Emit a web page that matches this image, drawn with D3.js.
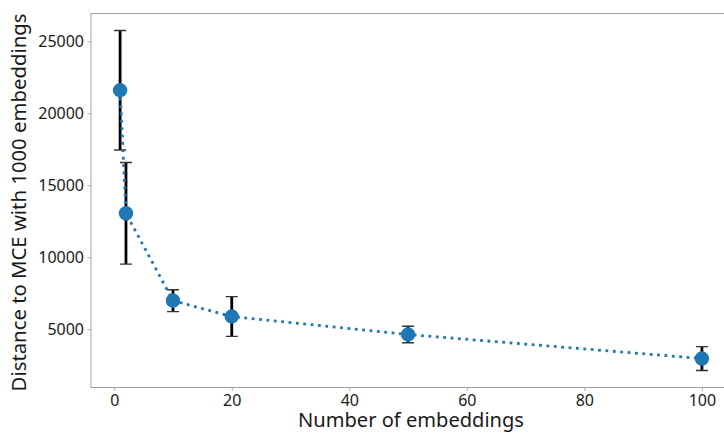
<!DOCTYPE html>
<html>
<head>
<meta charset="utf-8">
<script src="https://cdn.jsdelivr.net/npm/d3@7"></script>
<style>
  html, body { margin: 0; padding: 0; background: #fff; }
  svg { display: block; }
  text { font-family: "Noto Sans", "DejaVu Sans", sans-serif; fill: #1a1a1a; }
</style>
</head>
<body>
<svg id="chart" width="724" height="434"></svg>
<script>
// data
const embeddings = [1, 2, 10, 20, 50, 100];
const distances = [21600, 13050, 6980, 5880, 4630, 2960];
const errors = [4150, 3530, 760, 1380, 570, 830];
const xTicks = [0, 20, 40, 60, 80, 100];
const yTicks = [5000, 10000, 15000, 20000, 25000];

const width = 724, height = 434;
const margin = { left: 91, top: 13.5, right: -7, bottom: 46.5 };
const blue = "#1f77b4";

const svg = d3.select("#chart");

// matplotlib style 5% padding
const xMin = d3.min(embeddings), xMax = d3.max(embeddings);
const xPad = (xMax - xMin) * 0.05;
const lows = distances.map((d, i) => d - errors[i]);
const highs = distances.map((d, i) => d + errors[i]);
const yMin = d3.min(lows), yMax = d3.max(highs);
const yPad = (yMax - yMin) * 0.05;

const x = d3.scaleLinear()
    .domain([xMin - xPad, xMax + xPad])
    .range([margin.left, width - margin.right]);
const y = d3.scaleLinear()
    .domain([yMin - yPad, yMax + yPad])
    .range([height - margin.bottom, margin.top]);

const plotW = width - margin.right - margin.left;
const plotH = height - margin.bottom - margin.top;

svg.append("defs").append("clipPath").attr("id", "clip")
  .append("rect")
    .attr("x", margin.left).attr("y", margin.top)
    .attr("width", plotW).attr("height", plotH);

// axes
const xAxis = svg.append("g")
    .attr("transform", `translate(0,${height - margin.bottom})`)
    .call(d3.axisBottom(x).tickValues(xTicks).tickSize(3.5).tickPadding(3.5));
const yAxis = svg.append("g")
    .attr("transform", `translate(${margin.left},0)`)
    .call(d3.axisLeft(y).tickValues(yTicks).tickSize(3.5).tickPadding(3.5).tickFormat(d3.format("d")));

[xAxis, yAxis].forEach(g => {
  g.select(".domain").remove();
  g.selectAll(".tick line").attr("stroke", "#999").attr("stroke-width", 0.8);
  g.selectAll(".tick text").style("font-size", "16px").attr("fill", "#1a1a1a");
});

// frame (spines)
svg.append("rect")
    .attr("x", margin.left).attr("y", margin.top)
    .attr("width", plotW).attr("height", plotH)
    .attr("fill", "none").attr("stroke", "#a0a0a0").attr("stroke-width", 1);

const plot = svg.append("g").attr("clip-path", "url(#clip)");

// error bars
const eb = plot.append("g").selectAll("g")
  .data(embeddings.map((e, i) => ({ e, d: distances[i], err: errors[i] })))
  .join("g");
eb.append("line")
    .attr("x1", d => x(d.e)).attr("x2", d => x(d.e))
    .attr("y1", d => y(d.d - d.err)).attr("y2", d => y(d.d + d.err))
    .attr("stroke", "#000").attr("stroke-width", 2.8);
[-1, 1].forEach(s => {
  eb.append("line")
      .attr("x1", d => x(d.e) - 6).attr("x2", d => x(d.e) + 6)
      .attr("y1", d => y(d.d + s * d.err)).attr("y2", d => y(d.d + s * d.err))
      .attr("stroke", "#333").attr("stroke-width", 1.4);
});

// dotted line
const line = d3.line().x(d => x(d[0])).y(d => y(d[1]));
plot.append("path")
    .datum(embeddings.map((e, i) => [e, distances[i]]))
    .attr("d", line)
    .attr("fill", "none")
    .attr("stroke", blue)
    .attr("stroke-width", 2.8)
    .attr("stroke-dasharray", "2.8,4.6");

// markers
plot.append("g").selectAll("circle")
  .data(embeddings.map((e, i) => [e, distances[i]]))
  .join("circle")
    .attr("cx", d => x(d[0])).attr("cy", d => y(d[1]))
    .attr("r", 7.2)
    .attr("fill", blue);

// axis labels, sized to the widths seen in the reference
function fitText(sel, target) {
  const w = sel.node().getComputedTextLength();
  sel.style("font-size", (20 * target / w).toFixed(2) + "px");
}
const xLabel = svg.append("text")
    .attr("x", 411).attr("y", 427)
    .attr("text-anchor", "middle")
    .style("font-size", "20px")
    .text("Number of embeddings");
fitText(xLabel, 226);
const yLabel = svg.append("text")
    .attr("transform", `translate(26,${(margin.top + height - margin.bottom) / 2 + 2}) rotate(-90)`)
    .attr("text-anchor", "middle")
    .style("font-size", "20px")
    .text("Distance to MCE with 1000 embeddings");
fitText(yLabel, 378);
</script>
</body>
</html>
